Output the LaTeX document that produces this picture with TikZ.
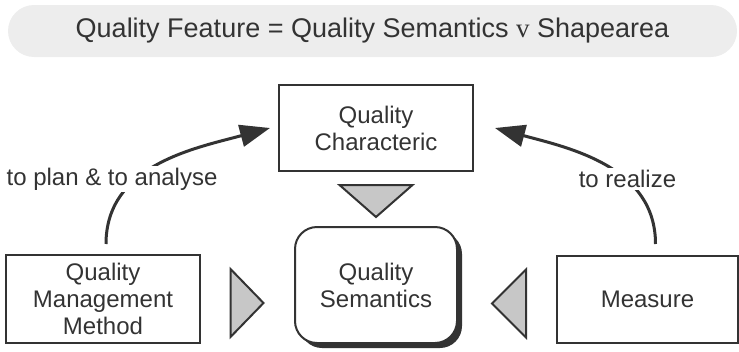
\documentclass[tikz,border=0pt]{standalone}
\usepackage{fontspec}
\setmainfont{Liberation Sans}
\newfontfamily\serifv{Liberation Serif}
\usetikzlibrary{arrows.meta, positioning, shadows, calc}

\definecolor{ink}{gray}{0.2}
\definecolor{wedgefill}{gray}{0.78}
\definecolor{bannerfill}{gray}{0.93}

\begin{document}
\begin{tikzpicture}[
        x=1pt, y=1pt,
        node distance=54pt and 93pt,
        % Estilos para nodos
        box/.style={
                rectangle,
                draw=ink,
                line width=2pt,
                align=center,
                text=ink,
                font=\fontsize{24}{27}\selectfont
            },
        roundbox/.style={
                box,
                rounded corners=22pt,
                fill=white,
                drop shadow={shadow xshift=5pt, shadow yshift=-5pt, fill=ink, opacity=1}
            },
        banner/.style={
                rectangle,
                rounded corners=26pt,
                fill=bannerfill,
                text=ink,
                font=\fontsize{27}{30}\selectfont
            },
        lbl/.style={
                fill=white,
                inner sep=2pt,
                text=ink,
                font=\fontsize{24}{27}\selectfont
            },
        % Cunas
        wedge/.style={
                draw=ink,
                line width=2pt,
                fill=wedgefill,
                line join=miter
            },
        % Flechas
        flow/.style={
                -{Triangle[length=30pt,width=22pt]},
                line width=3pt,
                color=ink
            }
    ]

    \useasboundingbox (0,0) rectangle (739,-351);

    % TITULO (arriba)
    \node[banner, minimum width=729pt, minimum height=52pt] (title) at (372.5,-31)
        {Quality Feature = Quality Semantics {\serifv v} Shapearea};

    % SEMANTICA (centro)
    \node[roundbox, minimum width=162pt, minimum height=116pt] (semantics) at (376,-285)
        {Quality\\Semantics};

    % CARACTERISTICA (arriba)
    \node[box, minimum width=194pt, minimum height=86pt, above=of semantics] (characteric)
        {Quality\\Characteric};

    % METODO (izquierda)
    \node[box, minimum width=194pt, minimum height=88pt, left=93pt of semantics.south west, anchor=south east] (method)
        {Quality\\Management\\Method};

    % MEDIDA (derecha)
    \node[box, minimum width=181pt, minimum height=87pt, right=98pt of semantics.south east, anchor=south west] (measure)
        {Measure};

    % CUNAS
    \coordinate (wtop) at ($(characteric.south)!0.5!(semantics.north)$);
    \coordinate (wleft) at ($(method.east)!0.5!(semantics.west |- method.east) + (0,-4)$);
    \coordinate (wright) at ($(measure.west)!0.5!(semantics.east |- measure.west) + (0,-4)$);
    \draw[wedge] ($(wtop)+(-36.5,14)$) -- ++(73,0) -- ($(wtop)+(0,-18)$) -- cycle;
    \draw[wedge] ($(wleft)+(-17,34)$) -- ++(0,-68) -- ($(wleft)+(16,0)$) -- cycle;
    \draw[wedge] ($(wright)+(19,34)$) -- ++(0,-68) -- ($(wright)+(-15,0)$) -- cycle;

    % FLECHAS
    \coordinate (methodtop) at ([xshift=3pt,yshift=10pt]method.north);
    \coordinate (measuretop) at ([xshift=8pt,yshift=11pt]measure.north);
    \draw[flow] (methodtop) to[out=90, in=195] ([xshift=-8pt]characteric.west);
    \draw[flow] (measuretop) to[out=90, in=-15] ([xshift=21pt]characteric.east);

    % ETIQUETAS
    \node[lbl] (plan) at ([xshift=9pt,yshift=75pt]method.north) {to plan \& to analyse};
    \node[lbl] (realize) at ([xshift=-20pt,yshift=76pt]measure.north) {to realize};

\end{tikzpicture}
\end{document}
